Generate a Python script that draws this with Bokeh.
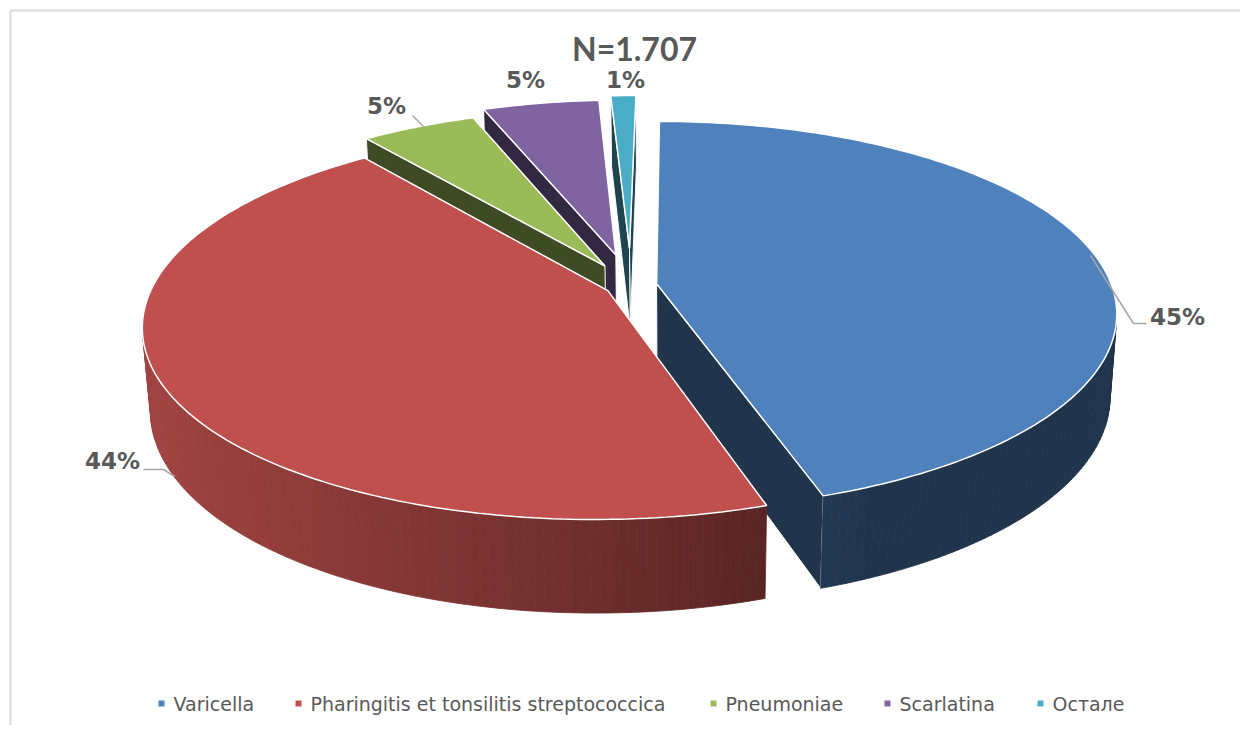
import numpy as np
from bokeh.plotting import figure
from bokeh.models import Range1d, ColumnDataSource
from bokeh.embed import file_html
from bokeh.resources import INLINE
from bokeh.core.properties import value

# ---------------- data ----------------
categories = ["Varicella", "Pharingitis et tonsilitis streptococcica",
              "Pneumoniae", "Scarlatina", "Остале"]
counts = [766, 759, 81, 83, 18]          # N = 1.707
total_text = "N=1.707"
colors = ["#4F81BD", "#C0504D", "#9BBB59", "#8064A2", "#4BACC6"]
explode = [0.057, 0.057, 0.12, 0.17, 0.20]

# ---------------- layout (positions only) ----------------
label_pos = [(1177, 316), (112, 460), (386, 105), (525, 79), (625, 79)]
leaders = [[(1090, 255), (1133, 323), (1146, 323)],
           [(143, 469), (163, 469), (174, 476)],
           [(412, 115), (423, 126)], [], []]
total_pos = (634, 48)
legend_x = [161, 298, 713, 887, 1040]
legend_y = 703

W, H = 1240, 725
p = figure(width=W, height=H, x_range=Range1d(0, W), y_range=Range1d(H, 0),
           output_backend="svg", toolbar_location=None, min_border=0,
           x_axis_location=None, y_axis_location=None)
p.xgrid.visible = False
p.ygrid.visible = False
p.outline_line_color = None
p.background_fill_color = "white"
p.border_fill_color = "white"

# ---------------- 3D projection ----------------
phi = np.radians(24.6)
SN, CS = np.sin(phi), np.cos(phi)
DIST, FOC = 5.55, 2526.0
CAMX = 0.10
CX, CY = 676.0, 285.0
THICK = 0.20
CAM = np.array([CAMX, -DIST * CS, DIST * SN])


def proj(X, Y, Z):
    X, Y, Z = (np.asarray(v, dtype=float) for v in (X, Y, Z))
    den = DIST + Y * CS - Z * SN
    return CX + FOC * (X - CAMX) / den, CY - FOC * (Y * SN + Z * CS) / den


def shade(hexc, f):
    rgb = [int(hexc[k:k + 2], 16) for k in (1, 3, 5)]
    return "#%02x%02x%02x" % tuple(int(round(min(255, max(0, v * f)))) for v in rgb)


total = float(sum(counts))
edges = np.concatenate([[0.0], np.cumsum(np.array(counts) / total) * 360.0])

sides = []
tops = []
for i in range(len(counts)):
    a0, a1 = edges[i], edges[i + 1]
    m = np.radians((a0 + a1) / 2)
    ox, oy = explode[i] * np.sin(m), explode[i] * np.cos(m)
    n = max(2, int(np.ceil((a1 - a0) / 1.0)) + 1)
    ts = np.radians(np.linspace(a0, a1, n))
    rx, ry = ox + np.sin(ts), oy + np.cos(ts)
    tx, ty = proj(np.r_[ox, rx], np.r_[oy, ry], np.zeros(n + 1))
    tops.append((list(tx), list(ty), colors[i]))
    # outer wall
    for k in range(n - 1):
        tm = (ts[k] + ts[k + 1]) / 2
        px, py = ox + np.sin(tm), oy + np.cos(tm)
        dot = np.sin(tm) * (CAM[0] - px) + np.cos(tm) * (CAM[1] - py)
        if dot <= 0:
            continue
        qx = [rx[k], rx[k + 1], rx[k + 1], rx[k]]
        qy = [ry[k], ry[k + 1], ry[k + 1], ry[k]]
        qz = [0, 0, -THICK, -THICK]
        sx, sy = proj(qx, qy, qz)
        f = float(np.clip(0.84 + (sx.mean() - 140) * (0.47 - 0.84) / (762 - 140), 0.40, 0.86))
        col = shade(colors[i], f)
        dist = np.linalg.norm(np.array([px, py, -THICK / 2]) - CAM)
        sides.append((dist, list(sx), list(sy), col, col, 0.8))
    # radial cut faces
    for a, sgn in ((a0, -1), (a1, 1)):
        ar = np.radians(a)
        nx, ny = np.sin(ar + sgn * np.pi / 2), np.cos(ar + sgn * np.pi / 2)
        if nx * (CAM[0] - ox) + ny * (CAM[1] - oy) <= 0:
            continue
        ex, ey = ox + np.sin(ar), oy + np.cos(ar)
        sx, sy = proj([ox, ex, ex, ox], [oy, ey, ey, oy], [0, 0, -THICK, -THICK])
        dist = np.linalg.norm(np.array([(ox + ex) / 2, (oy + ey) / 2, -THICK / 2]) - CAM)
        sides.append((dist, list(sx), list(sy), shade(colors[i], 0.40), "white", 1.0))

sides.sort(key=lambda s: -s[0])
side_src = ColumnDataSource(dict(xs=[s[1] for s in sides], ys=[s[2] for s in sides],
                                 fc=[s[3] for s in sides], lc=[s[4] for s in sides],
                                 lw=[s[5] for s in sides]))
p.patches("xs", "ys", source=side_src, fill_color="fc", line_color="lc", line_width="lw")

top_src = ColumnDataSource(dict(xs=[t[0] for t in tops], ys=[t[1] for t in tops],
                                fc=[t[2] for t in tops]))
p.patches("xs", "ys", source=top_src, fill_color="fc", line_color="white", line_width=1.5)

# chart border (top & left visible)
p.line([10, 10, 1246], [731, 10, 10], line_color="#d9d9d9", line_width=2)

# leader lines
for pts in leaders:
    if pts:
        p.line([q[0] for q in pts], [q[1] for q in pts], line_color="#a6a6a6", line_width=1.5)

# percentage labels
pct = ["%d%%" % round(100 * c / total) for c in counts]
p.text(x=[q[0] for q in label_pos], y=[q[1] for q in label_pos], text=pct,
       text_font=value("DejaVu Sans"), text_font_style="bold", text_font_size="23px",
       text_color="#595959", text_align="center", text_baseline="middle")
p.text(x=[total_pos[0]], y=[total_pos[1]], text=[total_text],
       text_font=value("Lato"), text_font_style="bold", text_font_size="32px",
       text_color="#595959", text_align="center", text_baseline="middle")

# legend
p.scatter(x=legend_x, y=[legend_y] * len(legend_x), marker="square", size=6,
          fill_color=colors, line_color=None)
p.text(x=[lx + 12 for lx in legend_x], y=[legend_y] * len(legend_x), text=categories,
       text_font=value("DejaVu Sans"), text_font_size="19px", text_color="#595959",
       text_align="left", text_baseline="middle")

open("out.html", "w").write(file_html(p, INLINE))
